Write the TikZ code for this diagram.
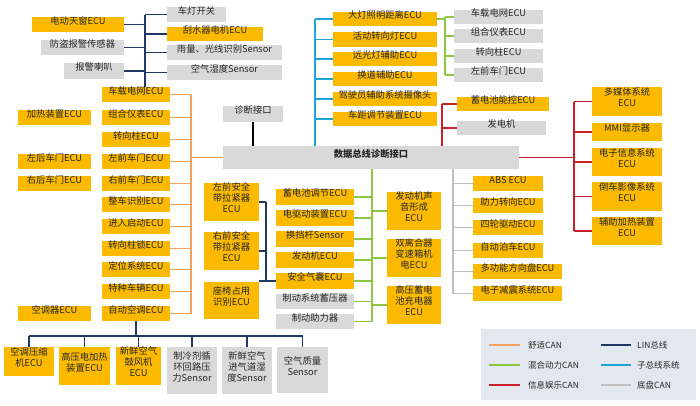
\documentclass[tikz,border=0pt]{standalone}
\usepackage{fontspec}
\setmainfont{Noto Sans CJK SC}
\usetikzlibrary{fit}
\definecolor{yel}{HTML}{FBBA00}
\definecolor{gbox}{HTML}{D9D9D9}
\definecolor{cOr}{HTML}{F5A05A}
\definecolor{cLin}{HTML}{1F3864}
\definecolor{cGr}{HTML}{8DC63F}
\definecolor{cCy}{HTML}{1EA5DC}
\definecolor{cRd}{HTML}{CC1F2A}
\definecolor{cCh}{HTML}{BFBFBF}
\definecolor{legbg}{HTML}{E3E7EF}
\newcommand\bx[7]{\node[#1,fit={(#3,#4)(#5,#6)}] (#2) {#7};}
\begin{document}
\begin{tikzpicture}[x=1pt,y=-1pt,
  base/.style={inner sep=0pt, outer sep=0pt, font=\fontsize{9.3}{11}\selectfont, align=center, text=black!85},
  yb/.style={base, fill=yel},
  gb/.style={base, fill=gbox},
  wire/.style={line width=1.4pt},
  comf/.style={wire, draw=cOr},
  lin/.style={wire, draw=cLin},
  hyb/.style={wire, draw=cGr},
  sub/.style={wire, draw=cCy},
  info/.style={wire, draw=cRd},
  chas/.style={wire, draw=cCh},
  legtext/.style={inner sep=0pt, anchor=west, font=\fontsize{8.5}{10}\selectfont, text=black!85}]
\useasboundingbox (0,0) rectangle (700,405);
\fill[white] (0,0) rectangle (700,405);

% ---- top-left LIN group
\bx{yb}{y1}{32}{17}{124}{32}{电动天窗ECU}
\bx{gb}{g1}{41}{40}{124}{55}{防盗报警传感器}
\bx{gb}{g2}{64}{63}{124}{79}{报警喇叭}
\bx{gb}{g3}{167}{7}{226}{22}{车灯开关}
\bx{yb}{y2}{167}{27}{263}{41}{刮水器电机ECU}
\bx{gb}{g4}{167}{45}{282}{60}{雨量、光线识别Sensor}
\bx{gb}{g5}{167}{65}{282}{80}{空气湿度Sensor}

% ---- comfort CAN column
\bx{yb}{c1}{102}{87}{170}{102}{车载电网ECU}
\bx{yb}{c2}{102}{110}{170}{125}{组合仪表ECU}
\bx{yb}{c3}{102}{132}{170}{147}{转向柱ECU}
\bx{yb}{c4}{102}{154}{170}{169}{左前车门ECU}
\bx{yb}{c5}{102}{176}{170}{191}{右前车门ECU}
\bx{yb}{c6}{102}{197}{170}{212}{整车识别ECU}
\bx{yb}{c7}{102}{219}{170}{234}{进入启动ECU}
\bx{yb}{c8}{102}{241}{170}{256}{转向柱锁ECU}
\bx{yb}{c9}{102}{262}{170}{277}{定位系统ECU}
\bx{yb}{c10}{102}{284}{170}{299}{特种车辆ECU}
\bx{yb}{c11}{102}{306}{170}{321}{自动空调ECU}

\bx{yb}{l1}{18}{110}{91}{125}{加热装置ECU}
\bx{yb}{l2}{18}{154}{91}{169}{左后车门ECU}
\bx{yb}{l3}{18}{176}{91}{191}{右后车门ECU}
\bx{yb}{l4}{18}{306}{91}{321}{空调器ECU}

% ---- bottom LIN group
\bx{yb}{b1}{4}{347}{54}{376}{空调压缩\\机ECU}
\bx{yb}{b2}{59}{347}{110}{385}{高压电加热\\装置ECU}
\bx{yb}{b3}{116}{347}{161}{385}{新鲜空气\\鼓风机\\ECU}
\bx{gb}{b4}{167}{347}{217}{394}{制冷剂循\\环回路压\\力Sensor}
\bx{gb}{b5}{222}{347}{272}{394}{新鲜空气\\进气道湿\\度Sensor}
\bx{gb}{b6}{277}{347}{328}{393}{空气质量\\Sensor}

% ---- diagnosis
\bx{gb}{diag}{223}{106}{283}{122}{诊断接口}
\bx{gb}{bus}{223}{146}{519}{169}{\bfseries 数据总线诊断接口}

% ---- seat belts
\bx{yb}{s1}{204}{183}{259}{221}{左前安全\\带拉紧器\\ECU}
\bx{yb}{s2}{204}{232}{259}{270}{右前安全\\带拉紧器\\ECU}
\bx{yb}{s3}{204}{282}{259}{319}{座椅占用\\识别ECU}

% ---- hybrid CAN
\bx{yb}{h1}{276}{189}{354}{205}{蓄电池调节ECU}
\bx{yb}{h2}{276}{210}{354}{226}{电驱动装置ECU}
\bx{yb}{h3}{276}{231}{354}{247}{换挡杆Sensor}
\bx{yb}{h4}{276}{252}{354}{268}{发动机ECU}
\bx{yb}{h5}{276}{273}{354}{289}{安全气囊ECU}
\bx{gb}{h6}{276}{294}{354}{309}{制动系统蓄压器}
\bx{gb}{h7}{276}{314}{354}{329}{制动助力器}
\bx{yb}{e1}{387}{192}{441}{230}{发动机声\\音形成\\ECU}
\bx{yb}{e2}{387}{239}{441}{277}{双离合器\\变速箱机\\电ECU}
\bx{yb}{e3}{387}{286}{441}{324}{高压蓄电\\池充电器\\ECU}

% ---- chassis CAN
\bx{yb}{k1}{473}{176}{543}{191}{ABS ECU}
\bx{yb}{k2}{473}{198}{543}{213}{助力转向ECU}
\bx{yb}{k3}{473}{220}{543}{235}{四轮驱动ECU}
\bx{yb}{k4}{473}{243}{543}{258}{自动泊车ECU}
\bx{yb}{k5}{473}{264}{562}{279}{多功能方向盘ECU}
\bx{yb}{k6}{473}{286}{562}{301}{电子减震系统ECU}

% ---- infotainment CAN
\bx{yb}{m1}{592}{87}{662}{116}{多媒体系统\\ECU}
\bx{yb}{m2}{592}{123}{662}{141}{MMI显示器}
\bx{yb}{m3}{592}{148}{662}{176}{电子信息系统\\ECU}
\bx{yb}{m4}{592}{182}{662}{211}{倒车影像系统\\ECU}
\bx{yb}{m5}{592}{217}{662}{245}{辅助加热装置\\ECU}
\bx{yb}{n1}{457}{97}{549}{111}{蓄电池能控ECU}
\bx{gb}{n2}{457}{121}{546}{135}{发电机}

% ---- sub bus
\bx{yb}{a1}{333}{12}{437}{26}{大灯照明距离ECU}
\bx{yb}{a2}{333}{32}{437}{47}{活动转向灯ECU}
\bx{yb}{a3}{333}{52}{437}{66}{远光灯辅助ECU}
\bx{yb}{a4}{333}{72}{437}{86}{换道辅助ECU}
\bx{yb}{a5}{333}{92}{437}{106}{驾驶员辅助系统摄像头}
\bx{yb}{a6}{333}{112}{437}{126}{车距调节装置ECU}
\bx{gb}{p1}{454}{10}{543}{24}{车载电网ECU}
\bx{gb}{p2}{454}{29}{543}{43}{组合仪表ECU}
\bx{gb}{p3}{454}{49}{543}{63}{转向柱ECU}
\bx{gb}{p4}{454}{68}{543}{82}{左前车门ECU}

% ---- trunk coordinates
\coordinate (linT) at (145,0);
\coordinate (oT) at (191,0);
\coordinate (bl) at (0,336);
\coordinate (sT) at (266,0);
\coordinate (gT) at (372,0);
\coordinate (cT) at (453,0);
\coordinate (rT) at (574,0);
\coordinate (rT2) at (442,0);
\coordinate (qT) at (315,0);
\coordinate (gT2) at (445,0);

% top-left LIN
\draw[lin] (g3.west -| linT) -- (c1.north -| linT);
\foreach \n in {y1,g1,g2} \draw[lin] (\n.east) -- (\n.east -| linT);
\foreach \n in {g3,y2,g4,g5} \draw[lin] (\n.west) -- (\n.west -| linT);

% comfort CAN
\draw[comf] (c1.east -| oT) -- (c11.east -| oT);
\foreach \n in {c1,c2,c3,c4,c5,c6,c7,c8,c9,c10,c11} \draw[comf] (\n.east) -- (\n.east -| oT);
\draw[comf] (bus.west) -- (bus.west -| oT);

% bottom LIN
\draw[lin] (c11.south) -- (c11.south |- bl);
\draw[lin] (b1.north |- bl) -- (b6.north |- bl);
\foreach \n in {b1,b2,b3,b4,b5,b6} \draw[lin] (\n.north |- bl) -- (\n.north);

% diagnosis
\draw[wire, black] (diag.south) -- (diag.south |- bus.north);

% seat LIN
\draw[lin] (s1.east -| sT) -- (h5.west -| sT);
\draw[lin] (s1.east) -- (s1.east -| sT);
\draw[lin] (s2.east) -- (s2.east -| sT);
\draw[lin] (h5.west -| s3.east) -- (h5.west);

% hybrid CAN
\draw[hyb] (bus.south -| gT) -- (h7.east -| gT);
\foreach \n in {h1,h2,h3,h4,h5,h6,h7} \draw[hyb] (\n.east) -- (\n.east -| gT);
\foreach \n in {e1,e2,e3} \draw[hyb] (\n.west) -- (\n.west -| gT);

% chassis CAN
\draw[chas] (bus.south -| cT) -- (k6.west -| cT);
\foreach \n in {k1,k2,k3,k4,k5,k6} \draw[chas] (\n.west) -- (\n.west -| cT);

% infotainment CAN
\draw[info] (bus.east) -- (bus.east -| rT);
\draw[info] (m1.west -| rT) -- (m5.west -| rT);
\foreach \n in {m1,m2,m3,m4,m5} \draw[info] (\n.west) -- (\n.west -| rT);
\draw[info] (bus.north -| rT2) -- (n1.west -| rT2);
\foreach \n in {n1,n2} \draw[info] (\n.west) -- (\n.west -| rT2);

% sub bus
\draw[sub] (bus.north -| qT) -- (a1.west -| qT);
\foreach \n in {a1,a2,a3,a4,a5,a6} \draw[sub] (\n.west) -- (\n.west -| qT);
\draw[hyb] (a1.east) -- (a1.east -| gT2);
\draw[hyb] (p1.west -| gT2) -- (p4.west -| gT2);
\foreach \n in {p1,p2,p3,p4} \draw[hyb] (\n.west) -- (\n.west -| gT2);

% legend
\node[fill=legbg, inner sep=0pt, fit={(481,329)(696,400)}] (leg) {};
\coordinate (la1) at (489,345); \coordinate (la2) at (520,345);
\coordinate (lb1) at (489,365); \coordinate (lb2) at (520,365);
\coordinate (lc1) at (489,385); \coordinate (lc2) at (520,385);
\coordinate (ld1) at (601,345); \coordinate (ld2) at (631,345);
\coordinate (le1) at (601,365); \coordinate (le2) at (631,365);
\coordinate (lf1) at (601,385); \coordinate (lf2) at (631,385);
\draw[comf] (la1) -- (la2);
\draw[hyb] (lb1) -- (lb2);
\draw[info] (lc1) -- (lc2);
\draw[lin] (ld1) -- (ld2);
\draw[sub] (le1) -- (le2);
\draw[chas] (lf1) -- (lf2);
\node[legtext] (t1) at (528,345) {舒适CAN};
\node[legtext] (t2) at (528,365) {混合动力CAN};
\node[legtext] (t3) at (528,385) {信息娱乐CAN};
\node[legtext] (t4) at (637,345) {LIN总线};
\node[legtext] (t5) at (637,365) {子总线系统};
\node[legtext] (t6) at (637,385) {底盘CAN};
\end{tikzpicture}
\end{document}
